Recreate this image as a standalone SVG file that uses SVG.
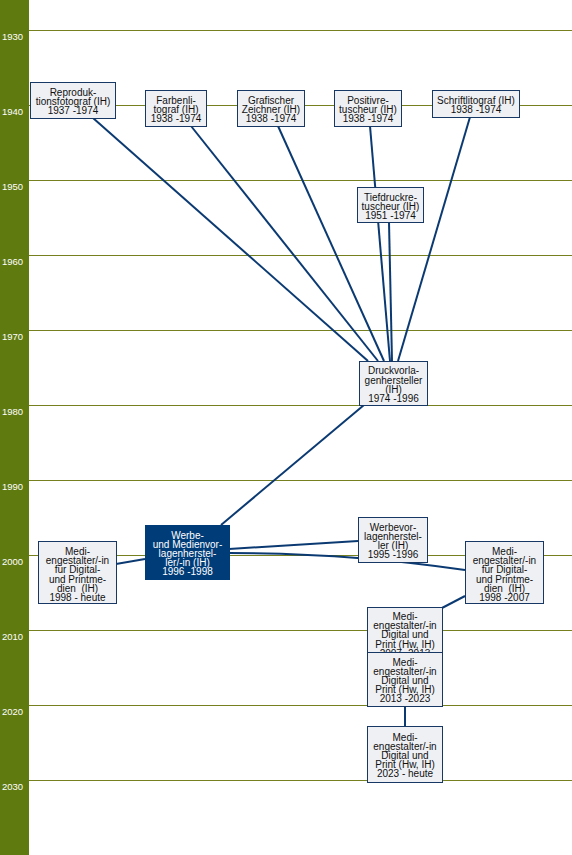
<svg xmlns="http://www.w3.org/2000/svg" width="572" height="855" viewBox="0 0 572 855">
<style>
.bar{fill:#5f7a0f}
.grid{stroke:#76801f;stroke-width:1}
.yr{font-family:"Liberation Sans",Arial,sans-serif;font-size:9.5px;fill:#ffffff}
.box{fill:#eef0f4;stroke:#173765;stroke-width:1}
.boxd{fill:#003c78;stroke:#003c78;stroke-width:1}
.t{font-family:"Liberation Sans",Arial,sans-serif;font-size:10px;fill:#111111;text-anchor:middle;white-space:pre}
.td{font-family:"Liberation Sans",Arial,sans-serif;font-size:10px;fill:#ffffff;text-anchor:middle;white-space:pre}
.c{stroke:#0b3a72;stroke-width:2;fill:none}
</style>
<rect x="0" y="0" width="572" height="855" fill="#ffffff"/>
<g id="axis">
<rect class="bar" x="0" y="0" width="29" height="855"/>
<line class="grid" x1="29" y1="30.5" x2="572" y2="30.5"/>
<line class="grid" x1="29" y1="105.5" x2="572" y2="105.5"/>
<line class="grid" x1="29" y1="180.5" x2="572" y2="180.5"/>
<line class="grid" x1="29" y1="255.5" x2="572" y2="255.5"/>
<line class="grid" x1="29" y1="330.5" x2="572" y2="330.5"/>
<line class="grid" x1="29" y1="405.5" x2="572" y2="405.5"/>
<line class="grid" x1="29" y1="480.5" x2="572" y2="480.5"/>
<line class="grid" x1="29" y1="555.5" x2="572" y2="555.5"/>
<line class="grid" x1="29" y1="630.5" x2="572" y2="630.5"/>
<line class="grid" x1="29" y1="705.5" x2="572" y2="705.5"/>
<line class="grid" x1="29" y1="780.5" x2="572" y2="780.5"/>
<text class="yr" x="2" y="40">1930</text>
<text class="yr" x="2" y="115">1940</text>
<text class="yr" x="2" y="190">1950</text>
<text class="yr" x="2" y="265">1960</text>
<text class="yr" x="2" y="340">1970</text>
<text class="yr" x="2" y="415">1980</text>
<text class="yr" x="2" y="490">1990</text>
<text class="yr" x="2" y="565">2000</text>
<text class="yr" x="2" y="640">2010</text>
<text class="yr" x="2" y="715">2020</text>
<text class="yr" x="2" y="790">2030</text>
</g>
<g id="connectors">
<line class="c" x1="93" y1="118" x2="368" y2="361"/>
<line class="c" x1="191" y1="126" x2="378" y2="361"/>
<line class="c" x1="278" y1="126" x2="384" y2="361"/>
<line class="c" x1="370" y1="126" x2="390" y2="361"/>
<line class="c" x1="389" y1="222" x2="392" y2="361"/>
<line class="c" x1="470" y1="117" x2="398" y2="361"/>
<line class="c" x1="364" y1="405" x2="221" y2="525"/>
<line class="c" x1="145" y1="559" x2="116" y2="564"/>
<line class="c" x1="229" y1="549" x2="358" y2="541"/>
<path class="c" d="M229,553 Q350,553 465,570"/>
<line class="c" x1="465" y1="596" x2="442" y2="608"/>
<line class="c" x1="405" y1="706" x2="405" y2="726"/>
</g>
<g id="n1">
<rect class="box" x="30.5" y="82.5" width="85" height="36"/>
<text class="t" y="95.8"><tspan x="73">Reproduk-</tspan><tspan x="73" dy="9.2">tionsfotograf (IH)</tspan><tspan x="73" dy="9.2">1937 -1974</tspan></text>
</g>
<g id="n2">
<rect class="box" x="145.5" y="90.5" width="61" height="36"/>
<text class="t" y="104"><tspan x="176">Farbenli-</tspan><tspan x="176" dy="9.2">tograf (IH)</tspan><tspan x="176" dy="9.2">1938 -1974</tspan></text>
</g>
<g id="n3">
<rect class="box" x="237.5" y="90.5" width="67" height="36"/>
<text class="t" y="104"><tspan x="271">Grafischer</tspan><tspan x="271" dy="9.2">Zeichner (IH)</tspan><tspan x="271" dy="9.2">1938 -1974</tspan></text>
</g>
<g id="n4">
<rect class="box" x="334.5" y="90.5" width="67" height="36"/>
<text class="t" y="104"><tspan x="368">Positivre-</tspan><tspan x="368" dy="9.2">tuscheur (IH)</tspan><tspan x="368" dy="9.2">1938 -1974</tspan></text>
</g>
<g id="n5">
<rect class="box" x="432.5" y="90.5" width="87" height="27"/>
<text class="t" y="104.2"><tspan x="476">Schriftlitograf (IH)</tspan><tspan x="476" dy="9">1938 -1974</tspan></text>
</g>
<g id="n6">
<rect class="box" x="357.5" y="187.5" width="66" height="35"/>
<text class="t" y="200.5"><tspan x="390.5">Tiefdruckre-</tspan><tspan x="390.5" dy="9.2">tuscheur (IH)</tspan><tspan x="390.5" dy="9.2">1951 -1974</tspan></text>
</g>
<g id="n7">
<rect class="box" x="359.5" y="361.5" width="68" height="44"/>
<text class="t" y="374.4"><tspan x="393.5">Druckvorla-</tspan><tspan x="393.5" dy="9.2">genhersteller</tspan><tspan x="393.5" dy="9.2">(IH)</tspan><tspan x="393.5" dy="9.2">1974 -1996</tspan></text>
</g>
<g id="n8">
<rect class="boxd" x="145.5" y="525.5" width="84" height="54"/>
<text class="td" y="538.6"><tspan x="187.5">Werbe-</tspan><tspan x="187.5" dy="9.2">und Medienvor-</tspan><tspan x="187.5" dy="9.2">lagenherstel-</tspan><tspan x="187.5" dy="9.2">ler/-in (IH)</tspan><tspan x="187.5" dy="9.2">1996 -1998</tspan></text>
</g>
<g id="n9">
<rect class="box" x="38.5" y="541.5" width="78" height="62"/>
<text class="t" y="555"><tspan x="77.5">Medi-</tspan><tspan x="77.5" dy="9.2">engestalter/-in</tspan><tspan x="77.5" dy="9.2">für Digital-</tspan><tspan x="77.5" dy="9.2">und Printme-</tspan><tspan x="77.5" dy="9.2">dien  (IH)</tspan><tspan x="77.5" dy="9.2">1998 - heute</tspan></text>
</g>
<g id="n10">
<rect class="box" x="358.5" y="517.5" width="69" height="45"/>
<text class="t" y="530.7"><tspan x="393">Werbevor-</tspan><tspan x="393" dy="9.2">lagenherstel-</tspan><tspan x="393" dy="9.2">ler (IH)</tspan><tspan x="393" dy="9.2">1995 -1996</tspan></text>
</g>
<g id="n11">
<rect class="box" x="465.5" y="541.5" width="78" height="62"/>
<text class="t" y="555"><tspan x="504.5">Medi-</tspan><tspan x="504.5" dy="9.2">engestalter/-in</tspan><tspan x="504.5" dy="9.2">für Digital-</tspan><tspan x="504.5" dy="9.2">und Printme-</tspan><tspan x="504.5" dy="9.2">dien  (IH)</tspan><tspan x="504.5" dy="9.2">1998 -2007</tspan></text>
</g>
<g id="n12">
<rect class="box" x="367.5" y="607.5" width="75" height="55"/>
<text class="t" y="620"><tspan x="405">Medi-</tspan><tspan x="405" dy="9.2">engestalter/-in</tspan><tspan x="405" dy="9.2">Digital und</tspan><tspan x="405" dy="9.2">Print (Hw, IH)</tspan><tspan x="405" dy="9.2">2007 -2013</tspan></text>
</g>
<g id="n13">
<rect class="box" x="367.5" y="652.5" width="75" height="54"/>
<text class="t" y="665.6"><tspan x="405">Medi-</tspan><tspan x="405" dy="9.2">engestalter/-in</tspan><tspan x="405" dy="9.2">Digital und</tspan><tspan x="405" dy="9.2">Print (Hw, IH)</tspan><tspan x="405" dy="9.2">2013 -2023</tspan></text>
</g>
<g id="n14">
<rect class="box" x="367.5" y="726.5" width="75" height="56"/>
<text class="t" y="740.6"><tspan x="405">Medi-</tspan><tspan x="405" dy="9.2">engestalter/-in</tspan><tspan x="405" dy="9.2">Digital und</tspan><tspan x="405" dy="9.2">Print (Hw, IH)</tspan><tspan x="405" dy="9.2">2023 - heute</tspan></text>
</g>
</svg>
